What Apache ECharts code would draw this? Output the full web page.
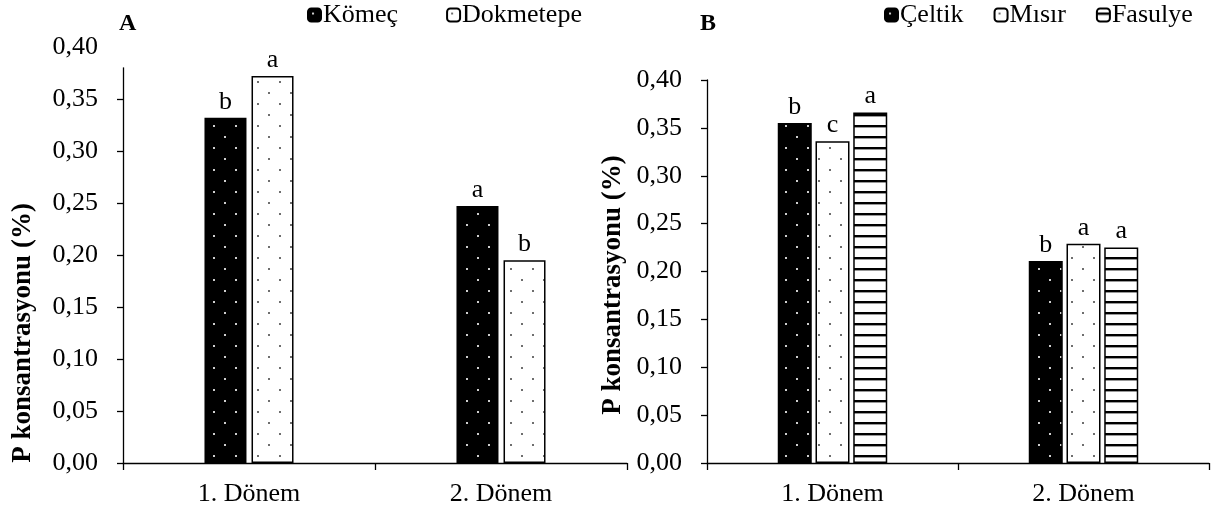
<!DOCTYPE html>
<html>
<head>
<meta charset="utf-8">
<script src="https://cdn.jsdelivr.net/npm/echarts@6/dist/echarts.min.js"></script>
<style>html,body{margin:0;padding:0;background:#fff}#c{width:1212px;height:512px}</style>
</head>
<body>
<div id="c"></div>
<script>
// ---- data ----
const categories = ['1. Dönem', '2. Dönem'];
const seriesA = ['Kömeç', 'Dokmetepe'];
const komec = [0.332, 0.247];
const dokmetepe = [0.372, 0.195];
const lettersKomec = ['b', 'a'];
const lettersDokmetepe = ['a', 'b'];
const seriesB = ['Çeltik', 'Mısır', 'Fasulye'];
const celtik = [0.355, 0.211];
const misir = [0.336, 0.229];
const fasulye = [0.366, 0.225];
const lettersCeltik = ['b', 'b'];
const lettersMisir = ['c', 'a'];
const lettersFasulye = ['a', 'a'];
const yTicks = [0, 0.05, 0.10, 0.15, 0.20, 0.25, 0.30, 0.35, 0.40];
const yTicksA = [0, 0.05, 0.10, 0.15, 0.20, 0.25, 0.30, 0.35];
const yAxisEndA = 0.38;   // panel A's axis line stops below 0,40
const yMax = 0.40;
const yAxisTitle = 'P konsantrasyonu (%)';

// ---- patterns ----
function dotPattern(bg, dot) {
  const c = document.createElement('canvas');
  c.width = 22; c.height = 22;
  const g = c.getContext('2d');
  g.fillStyle = bg; g.fillRect(0, 0, 22, 22);
  g.fillStyle = dot;
  g.fillRect(4, 4, 2, 2);
  g.fillRect(15, 15, 2, 2);
  return c;
}
function stripePattern() {
  const c = document.createElement('canvas');
  c.width = 8; c.height = 11;
  const g = c.getContext('2d');
  g.fillStyle = '#fff'; g.fillRect(0, 0, 8, 11);
  g.fillStyle = '#000'; g.fillRect(0, 4, 8, 2);
  g.fillStyle = '#999'; g.fillRect(0, 6, 8, 1);
  return c;
}
const blackDots = { image: dotPattern('#000', '#cfcfcf'), repeat: 'repeat' };
const whiteDots = { image: dotPattern('#fff', '#6e6e6e'), repeat: 'repeat' };
const stripes = { image: stripePattern(), repeat: 'repeat' };

const FONT = 'Liberation Serif';
const FS = 26;
const txt = { fontFamily: FONT, fontSize: FS, color: '#000' };

function fmt(v) { return v.toFixed(2).replace('.', ','); }

function makeBar(name, data, letters, fill, axisIdx, width, gap) {
  return {
    name, type: 'bar', data,
    xAxisIndex: axisIdx, yAxisIndex: axisIdx,
    barWidth: width, barGap: gap,
    itemStyle: { color: fill, borderColor: '#000', borderWidth: 1.5 },
    label: {
      show: true, position: 'top', distance: 3,
      fontFamily: FONT, fontSize: FS, color: '#000',
      formatter: p => letters[p.dataIndex]
    },
    emphasis: { disabled: true },
    animation: false
  };
}

function xAxis(gridIndex) {
  return {
    type: 'category', gridIndex, data: categories,
    axisLine: { lineStyle: { color: '#000', width: 1.3 } },
    axisTick: { show: true, length: 7, lineStyle: { color: '#000', width: 1.3 } },
    axisLabel: Object.assign({ margin: 18 }, txt),
    splitLine: { show: false }
  };
}
function yAxis(gridIndex, max, gap, shift, ticks, labels) {
  return {
    type: 'value', gridIndex, min: 0, max: max, interval: 0.05,
    name: yAxisTitle, nameLocation: 'middle', nameGap: gap,
    nameTextStyle: { fontFamily: FONT, fontSize: 27, fontWeight: 'bold', color: '#000',
      padding: [0, shift, 0, 0] },
    axisLine: { show: true, lineStyle: { color: '#000', width: 1.3 } },
    axisTick: { show: true, length: 6, customValues: ticks, lineStyle: { color: '#000', width: 1.3 } },
    axisLabel: Object.assign({ margin: 25, formatter: fmt, customValues: labels, showMaxLabel: true }, txt),
    splitLine: { show: false }
  };
}

function legend(names, left, gap) {
  return {
    data: names, left, top: 2, padding: 0, itemWidth: 13, itemHeight: 13, itemGap: gap,
    textStyle: { fontFamily: FONT, fontSize: FS, color: '#000', padding: [0, 0, 0, -3] }
  };
}

const chart = echarts.init(document.getElementById('c'), null, { renderer: 'canvas' });
chart.setOption({
  animation: false,
  backgroundColor: '#fff',
  title: [
    { text: 'A', left: 119, top: 12, padding: 0, textStyle: { fontFamily: FONT, fontSize: 24, fontWeight: 'bold', color: '#000' } },
    { text: 'B', left: 700, top: 12, padding: 0, textStyle: { fontFamily: FONT, fontSize: 24, fontWeight: 'bold', color: '#000' } }
  ],
  legend: [legend(seriesA, 307, 48), legend(seriesB, 884, 30)],
  grid: [
    { left: 123, right: 585, top: 463 - yAxisEndA / 0.05 * 52, bottom: 49 },
    { left: 707, right: 3, top: 80, bottom: 49 }
  ],
  xAxis: [xAxis(0), xAxis(1)],
  yAxis: [yAxis(0, yAxisEndA, 86, 135, yTicksA, yTicks), yAxis(1, yMax, 80, 27, yTicks, yTicks)],
  series: [
    makeBar(seriesA[0], komec, lettersKomec, blackDots, 0, 42, '12%'),
    makeBar(seriesA[1], dokmetepe, lettersDokmetepe, whiteDots, 0, 42, '12%'),
    makeBar(seriesB[0], celtik, lettersCeltik, blackDots, 1, 34, '11%'),
    makeBar(seriesB[1], misir, lettersMisir, whiteDots, 1, 34, '11%'),
    makeBar(seriesB[2], fasulye, lettersFasulye, stripes, 1, 34, '11%')
  ]
});

// Panel A shows a "0,40" tick label above the end of its (shorter) axis line
const topVal = yTicks[yTicks.length - 1];
const yTop = chart.convertToPixel({ yAxisIndex: 0 }, topVal);
chart.setOption({
  graphic: [{
    type: 'text', x: 123 - 25, y: yTop, silent: true,
    style: { text: fmt(topVal), align: 'right', verticalAlign: 'middle',
      fontFamily: FONT, fontSize: FS, fill: '#000' }
  }]
});
</script>
</body>
</html>
